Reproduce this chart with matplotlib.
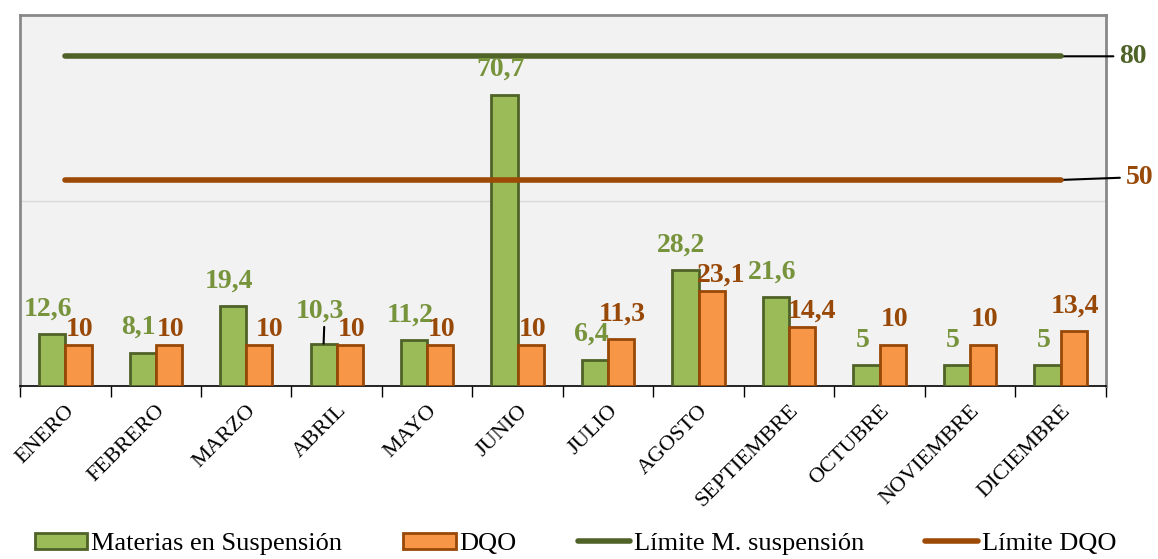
import matplotlib
matplotlib.use('Agg')
import matplotlib.pyplot as plt
from matplotlib.patches import Patch
from matplotlib.lines import Line2D

# datos mensuales
meses = ['ENERO', 'FEBRERO', 'MARZO', 'ABRIL', 'MAYO', 'JUNIO', 'JULIO',
         'AGOSTO', 'SEPTIEMBRE', 'OCTUBRE', 'NOVIEMBRE', 'DICIEMBRE']
susp = [12.6, 8.1, 19.4, 10.3, 11.2, 70.7, 6.4, 28.2, 21.6, 5, 5, 5]
dqo = [10, 10, 10, 10, 10, 10, 11.3, 23.1, 14.4, 10, 10, 13.4]
lim_susp = 80
lim_dqo = 50

# colores
verde = '#9bbb59'
verde_borde = '#4f6228'
verde_txt = '#77933c'
naranja = '#f79646'
naranja_borde = '#984807'
naranja_txt = '#984807'

plt.rcParams['font.family'] = ['Liberation Serif', 'DejaVu Serif']

fig = plt.figure(figsize=(11.58, 5.59), dpi=100)
ax = fig.add_axes([0.0173, 0.3095, 0.9377, 0.6635])
ax.set_facecolor('#f2f2f2')

x = list(range(len(meses)))
w = 0.29
xs = [i - w / 2 for i in x]
xd = [i + w / 2 for i in x]

ax.bar(xs, susp, w, color=verde, edgecolor=verde_borde, linewidth=2, zorder=3)
ax.bar(xd, dqo, w, color=naranja, edgecolor=naranja_borde, linewidth=2, zorder=3)

# lineas de limite
ax.plot([x[0], x[-1]], [lim_susp, lim_susp], color=verde_borde, lw=4,
        solid_capstyle='round', zorder=4)
ax.plot([x[0], x[-1]], [lim_dqo, lim_dqo], color='#9c4a06', lw=4,
        solid_capstyle='round', zorder=4)

# etiquetas de valores
def fmt(v):
    return ('%g' % v).replace('.', ',')

for i in x:
    if meses[i] == 'ABRIL':
        ax.annotate(fmt(susp[i]), xy=(xs[i], susp[i]), xytext=(-3, 14),
                    textcoords='offset points', ha='center', va='bottom',
                    color=verde_txt, fontsize=20, fontweight='bold',
                    arrowprops=dict(arrowstyle='-', color='black', lw=1.5,
                                    shrinkA=0, shrinkB=0,
                                    relpos=(0.6, 0.0)), zorder=5)
    else:
        ax.annotate(fmt(susp[i]), xy=(xs[i], susp[i]), xytext=(-3, 9),
                    textcoords='offset points', ha='center', va='bottom',
                    color=verde_txt, fontsize=20, fontweight='bold', zorder=5)
    # separar la etiqueta naranja cuando choca con la verde
    dx, dy = 1, 2
    if dqo[i] > susp[i] + 2:
        dy = 9
    elif 3 < susp[i] - dqo[i] < 15:
        dx = 7
    ax.annotate(fmt(dqo[i]), xy=(xd[i], dqo[i]), xytext=(dx, dy),
                textcoords='offset points', ha='center', va='bottom',
                color=naranja_txt, fontsize=20, fontweight='bold', zorder=5)

# valores de los limites a la derecha
ax.annotate(str(lim_susp), xy=(x[-1], lim_susp), xytext=(1.012, lim_susp),
            textcoords=('axes fraction', 'data'), ha='left', va='center',
            color=verde_borde, fontsize=20, fontweight='bold',
            arrowprops=dict(arrowstyle='-', color='black', lw=1.5,
                            shrinkA=2, shrinkB=0), annotation_clip=False)
ax.annotate(str(lim_dqo), xy=(x[-1], lim_dqo), xytext=(1.018, lim_dqo + 0.7),
            textcoords=('axes fraction', 'data'), ha='left', va='center',
            color=naranja_txt, fontsize=20, fontweight='bold',
            arrowprops=dict(arrowstyle='-', color='black', lw=1.5,
                            shrinkA=2, shrinkB=0), annotation_clip=False)

ax.set_xlim(-0.5, len(meses) - 0.5)
ax.set_ylim(0, 90)
ax.set_yticks([45])
ax.yaxis.grid(True, color='#d9d9d9', lw=1)
ax.set_axisbelow(True)
ax.tick_params(axis='y', left=False, labelleft=False)

ax.set_xticks(x)
ax.set_xticklabels(meses, rotation=45, ha='right', va='top',
                   rotation_mode='anchor', fontsize=16)
ax.tick_params(axis='x', which='major', length=0, pad=11)
ax.set_xticks([i - 0.5 for i in x] + [x[-1] + 0.5], minor=True)
ax.tick_params(axis='x', which='minor', length=8, width=1, direction='out',
               color='black')

for s in ['left', 'top', 'right']:
    ax.spines[s].set_color('#898989')
    ax.spines[s].set_linewidth(2)
ax.spines['bottom'].set_color('black')
ax.spines['bottom'].set_linewidth(1.2)

handles = [
    Patch(facecolor=verde, edgecolor=verde_borde, linewidth=2),
    Patch(facecolor=naranja, edgecolor=naranja_borde, linewidth=2),
    Line2D([], [], color=verde_borde, lw=4, solid_capstyle='round'),
    Line2D([], [], color='#9c4a06', lw=4, solid_capstyle='round'),
]
labels = ['Materias en Suspensión', 'DQO', 'Límite M. suspensión', 'Límite DQO']
fig.legend(handles, labels, loc='center', bbox_to_anchor=(0.497, 0.027),
           ncol=4, frameon=False, fontsize=19, handlelength=2.0,
           handleheight=0.6, handletextpad=0.15, columnspacing=2.3)

fig.savefig('out.png', dpi=100)
